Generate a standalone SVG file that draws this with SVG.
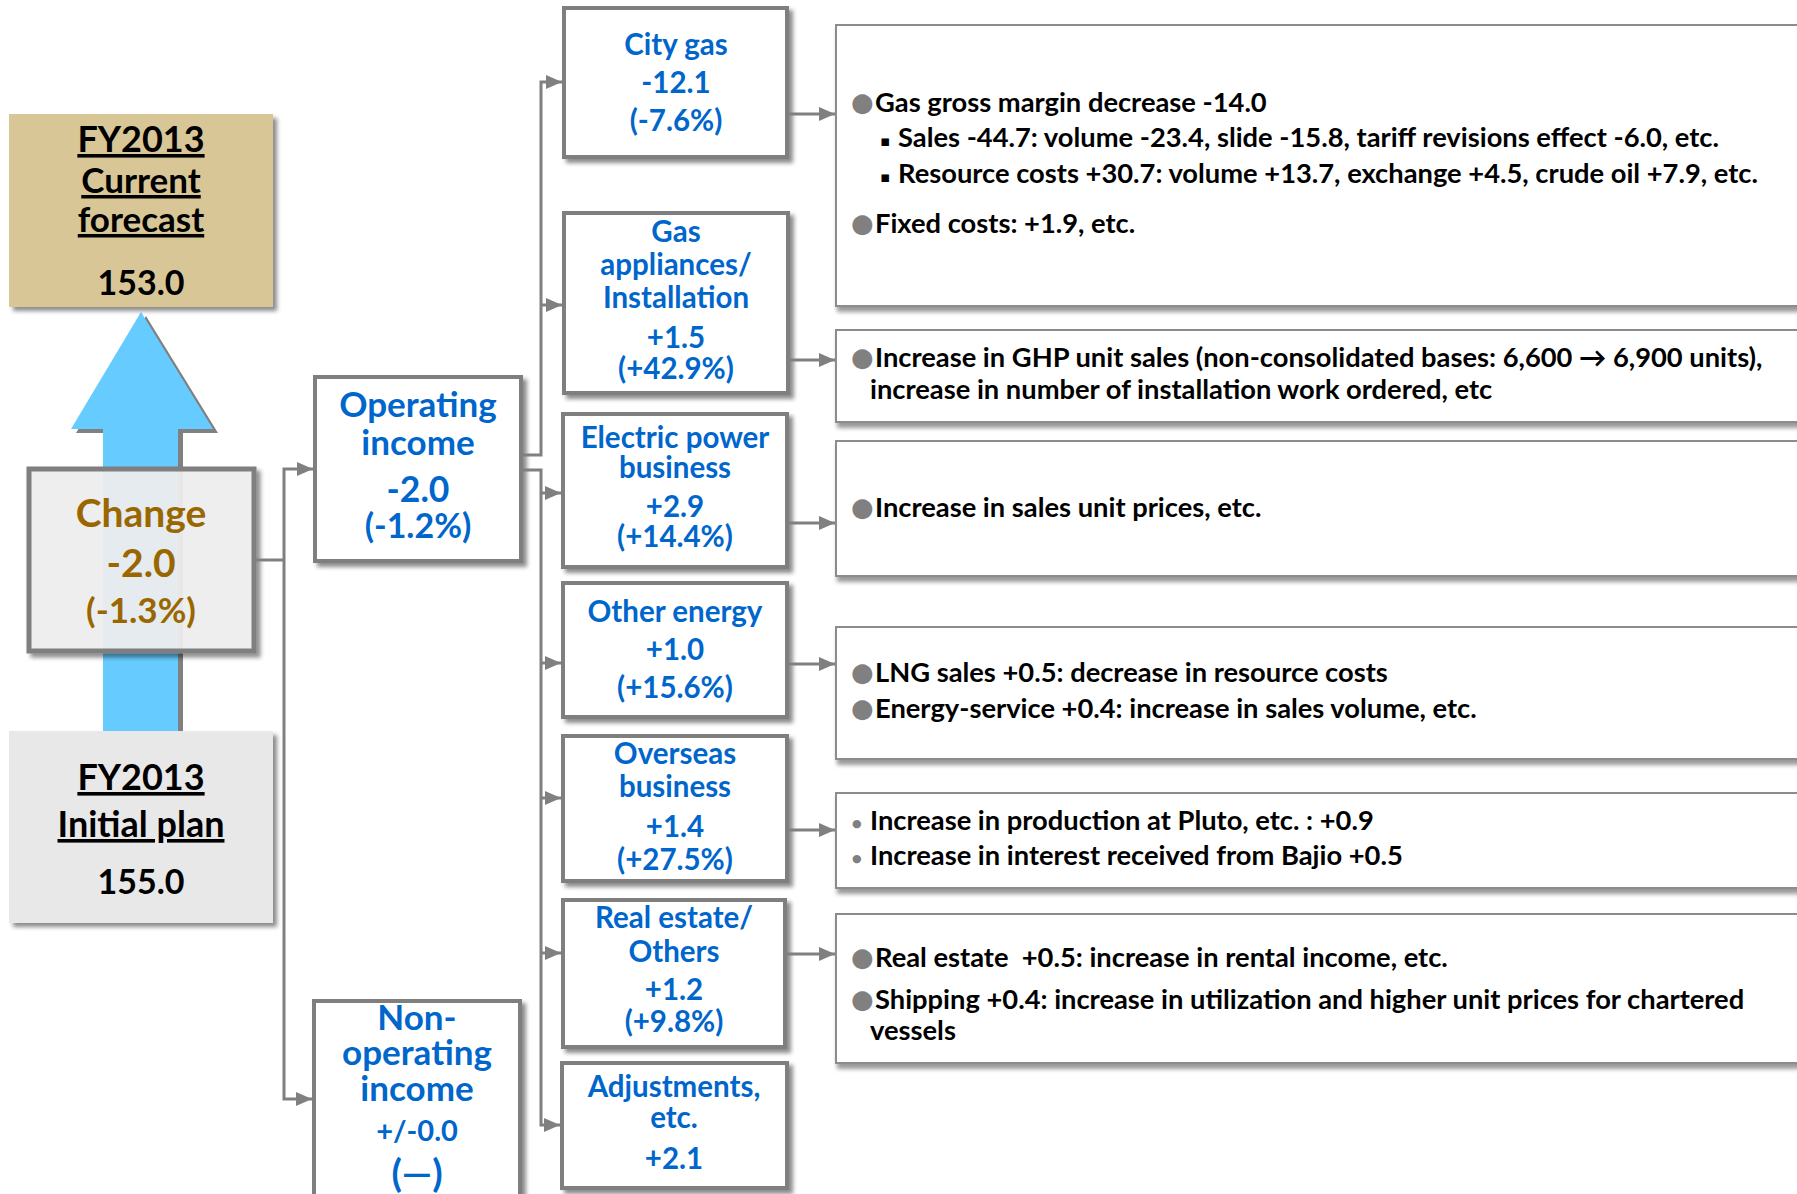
<svg xmlns="http://www.w3.org/2000/svg" width="1797" height="1194" viewBox="0 0 1797 1194">
<style>
text{font-family:Lato,"Liberation Sans",sans-serif;font-weight:700}
.c{text-anchor:middle}
.blue{fill:#0066CC}
.brown{fill:#996600}
.blk{fill:#000}
.mid{font-size:29.5px}
.big{font-size:35px}
.rt{font-size:27.3px;fill:#000}
.bul{font-family:"DejaVu Sans",sans-serif;fill:#808080;font-size:26px}
.sb{font-family:"DejaVu Sans",sans-serif;fill:#808080;font-size:11px}
.sq{font-family:"DejaVu Sans",sans-serif;fill:#000;font-size:15px}
.box{fill:#fff;stroke:#7F7F7F;stroke-width:4}
.rbox{fill:#fff;stroke:#8C8C8C;stroke-width:2}
.ln{fill:none;stroke:#808080;stroke-width:3}
.u{text-decoration:underline}
</style>
<defs>
<filter id="sh" x="-10%" y="-10%" width="130%" height="130%">
<feDropShadow dx="4" dy="4" stdDeviation="2" flood-color="#000" flood-opacity="0.45"/>
</filter>
<filter id="sh2" x="-5%" y="-10%" width="115%" height="130%">
<feDropShadow dx="2" dy="5" stdDeviation="2" flood-color="#000" flood-opacity="0.4"/>
</filter>
<marker id="ah" viewBox="0 0 16 14" refX="16" refY="7" markerWidth="16" markerHeight="14" markerUnits="userSpaceOnUse" orient="auto">
<path d="M0,0 L16,7 L0,14 z" fill="#808080"/>
</marker>
</defs>

<g id="arrow-up">
<polygon points="146,316 218,433 183,433 183,735 108,735 108,433 76,433" fill="#808080"/>
<polygon points="141,312 213,429 178,429 178,731 103,731 103,429 71,429" fill="#66CCFF"/>
</g>

<g id="current-forecast">
<rect x="9" y="114" width="264" height="193" fill="#D9C696" filter="url(#sh)"/>
<text class="c blk u" x="141" y="152" font-size="36">FY2013</text>
<text class="c blk u" x="141" y="193" font-size="35">Current</text>
<text class="c blk u" x="141" y="232" font-size="35">forecast</text>
<text class="c blk" x="141" y="295" font-size="34">153.0</text>
</g>

<g id="initial-plan">
<rect x="9" y="731" width="264" height="192" fill="#E8E8E8" filter="url(#sh)"/>
<text class="c blk u" x="141" y="790" font-size="36">FY2013</text>
<text class="c blk u" x="141" y="837" font-size="36">Initial plan</text>
<text class="c blk" x="141" y="894" font-size="34">155.0</text>
</g>

<g id="change">
<rect x="29" y="469" width="225" height="182" fill="#F2F2F2" fill-opacity="0.9" stroke="#7F7F7F" stroke-width="5" filter="url(#sh)"/>
<text class="c brown" x="141" y="527" font-size="39">Change</text>
<text class="c brown" x="141" y="577" font-size="39">-2.0</text>
<text class="c brown" x="141" y="623" font-size="35">(-1.3%)</text>
</g>

<g id="operating-income">
<rect x="315" y="377" width="206" height="184" class="box" filter="url(#sh)"/>
<text class="c blue big" x="418" y="417">Operating</text>
<text class="c blue big" x="418" y="455">income</text>
<text class="c blue" x="418" y="502" font-size="35.5">-2.0</text>
<text class="c blue" x="418" y="538" font-size="34">(-1.2%)</text>
</g>

<g id="non-operating-income">
<rect x="314" y="1001" width="206" height="220" class="box" filter="url(#sh)"/>
<text class="c blue big" x="417" y="1030">Non-</text>
<text class="c blue big" x="417" y="1065">operating</text>
<text class="c blue big" x="417" y="1101">income</text>
<text class="c blue" x="417" y="1141" font-size="29">+/-0.0</text>
<text class="c blue" x="417" y="1187" font-size="38">(—)</text>
</g>

<g id="city-gas">
<rect x="564" y="8" width="223" height="149" class="box" filter="url(#sh)"/>
<text class="c blue mid" x="676" y="55">City gas</text>
<text class="c blue mid" x="676" y="93">-12.1</text>
<text class="c blue mid" x="676" y="131">(-7.6%)</text>
</g>

<g id="gas-appliances">
<rect x="564" y="213" width="224" height="180" class="box" filter="url(#sh)"/>
<text class="c blue mid" x="676" y="242">Gas</text>
<text class="c blue mid" x="676" y="275">appliances/</text>
<text class="c blue mid" x="676" y="308">Installation</text>
<text class="c blue mid" x="676" y="348">+1.5</text>
<text class="c blue mid" x="676" y="379">(+42.9%)</text>
</g>

<g id="electric-power">
<rect x="563" y="414" width="224" height="153" class="box" filter="url(#sh)"/>
<text class="c blue mid" x="675" y="448">Electric power</text>
<text class="c blue mid" x="675" y="478">business</text>
<text class="c blue mid" x="675" y="517">+2.9</text>
<text class="c blue mid" x="675" y="547">(+14.4%)</text>
</g>

<g id="other-energy">
<rect x="563" y="583" width="224" height="134" class="box" filter="url(#sh)"/>
<text class="c blue mid" x="675" y="622">Other energy</text>
<text class="c blue mid" x="675" y="660">+1.0</text>
<text class="c blue mid" x="675" y="698">(+15.6%)</text>
</g>

<g id="overseas">
<rect x="563" y="736" width="224" height="145" class="box" filter="url(#sh)"/>
<text class="c blue mid" x="675" y="764">Overseas</text>
<text class="c blue mid" x="675" y="797">business</text>
<text class="c blue mid" x="675" y="837">+1.4</text>
<text class="c blue mid" x="675" y="870">(+27.5%)</text>
</g>

<g id="real-estate">
<rect x="563" y="900" width="222" height="147" class="box" filter="url(#sh)"/>
<text class="c blue mid" x="674" y="928">Real estate/</text>
<text class="c blue mid" x="674" y="962">Others</text>
<text class="c blue mid" x="674" y="1000">+1.2</text>
<text class="c blue mid" x="674" y="1032">(+9.8%)</text>
</g>

<g id="adjustments">
<rect x="562" y="1063" width="225" height="125" class="box" filter="url(#sh)"/>
<text class="c blue mid" x="674" y="1097">Adjustments,</text>
<text class="c blue mid" x="674" y="1128">etc.</text>
<text class="c blue mid" x="674" y="1169">+2.1</text>
</g>

<g id="detail-city-gas">
<rect x="836" y="25" width="970" height="281" class="rbox" filter="url(#sh2)"/>
<text class="bul" x="851" y="111">●</text>
<text class="rt" x="875" y="112">Gas gross margin decrease -14.0</text>
<text class="sq" x="880" y="146">▪</text>
<text class="rt" x="898" y="147">Sales -44.7: volume -23.4, slide -15.8, tariff revisions effect -6.0, etc.</text>
<text class="sq" x="880" y="182">▪</text>
<text class="rt" x="898" y="183">Resource costs +30.7: volume +13.7, exchange +4.5, crude oil +7.9, etc.</text>
<text class="bul" x="851" y="232">●</text>
<text class="rt" x="875" y="233">Fixed costs: +1.9, etc.</text>
</g>

<g id="detail-gas-appliances">
<rect x="836" y="330" width="970" height="92" class="rbox" filter="url(#sh2)"/>
<text class="bul" x="851" y="366">●</text>
<text class="rt" x="875" y="367">Increase in GHP unit sales (non-consolidated bases: 6,600 → 6,900 units),</text>
<text class="rt" x="870" y="399">increase in number of installation work ordered, etc</text>
</g>

<g id="detail-electric">
<rect x="836" y="441" width="970" height="135" class="rbox" filter="url(#sh2)"/>
<text class="bul" x="851" y="516">●</text>
<text class="rt" x="875" y="517">Increase in sales unit prices, etc.</text>
</g>

<g id="detail-other-energy">
<rect x="836" y="627" width="970" height="132" class="rbox" filter="url(#sh2)"/>
<text class="bul" x="851" y="681">●</text>
<text class="rt" x="875" y="682">LNG sales +0.5: decrease in resource costs</text>
<text class="bul" x="851" y="717">●</text>
<text class="rt" x="875" y="718">Energy-service +0.4: increase in sales volume, etc.</text>
</g>

<g id="detail-overseas">
<rect x="836" y="793" width="970" height="95" class="rbox" filter="url(#sh2)"/>
<text class="sb" x="852" y="827">●</text>
<text class="rt" x="870" y="830">Increase in production at Pluto, etc. : +0.9</text>
<text class="sb" x="852" y="862">●</text>
<text class="rt" x="870" y="865">Increase in interest received from Bajio +0.5</text>
</g>

<g id="detail-real-estate">
<rect x="836" y="914" width="970" height="149" class="rbox" filter="url(#sh2)"/>
<text class="bul" x="851" y="966">●</text>
<text class="rt" x="875" y="967" xml:space="preserve">Real estate  +0.5: increase in rental income, etc.</text>
<text class="bul" x="851" y="1008">●</text>
<text class="rt" x="875" y="1009">Shipping +0.4: increase in utilization and higher unit prices for chartered</text>
<text class="rt" x="870" y="1040">vessels</text>
</g>

<g id="connectors">
<path class="ln" d="M254,560 H284"/>
<path class="ln" d="M284,560 V469 H313" marker-end="url(#ah)"/>
<path class="ln" d="M284,560 V1099 H312" marker-end="url(#ah)"/>
<path class="ln" d="M521,455 H541 V82 H562" marker-end="url(#ah)"/>
<path class="ln" d="M541,305 H562" marker-end="url(#ah)"/>
<path class="ln" d="M521,470 H541 V1125 H560" marker-end="url(#ah)"/>
<path class="ln" d="M541,493 H561" marker-end="url(#ah)"/>
<path class="ln" d="M541,663 H561" marker-end="url(#ah)"/>
<path class="ln" d="M541,798 H561" marker-end="url(#ah)"/>
<path class="ln" d="M541,953 H561" marker-end="url(#ah)"/>
<path class="ln" d="M787,114 H835" marker-end="url(#ah)"/>
<path class="ln" d="M788,360 H835" marker-end="url(#ah)"/>
<path class="ln" d="M787,523 H835" marker-end="url(#ah)"/>
<path class="ln" d="M789,664 H835" marker-end="url(#ah)"/>
<path class="ln" d="M789,830 H835" marker-end="url(#ah)"/>
<path class="ln" d="M787,954 H835" marker-end="url(#ah)"/>
</g>
</svg>
